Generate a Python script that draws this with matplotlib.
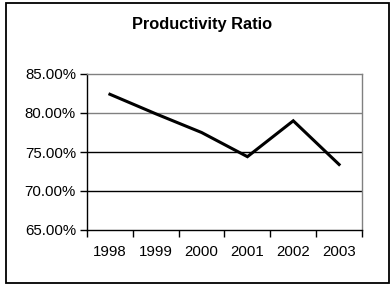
import matplotlib
matplotlib.use("Agg")
import matplotlib.pyplot as plt
from matplotlib.patches import Rectangle
from matplotlib.ticker import FixedLocator, NullFormatter, FixedFormatter

years = ["1998", "1999", "2000", "2001", "2002", "2003"]
ratio = [82.4, 79.9, 77.5, 74.4, 79.0, 73.4]
yticks = [65, 70, 75, 80, 85]
ytick_labels = ["65.00%", "70.00%", "75.00%", "80.00%", "85.00%"]
title = "Productivity Ratio"

W, H = 391, 284
fig = plt.figure(figsize=(W / 100, H / 100), dpi=100)
plt.rcParams['font.family'] = ['Liberation Sans', 'DejaVu Sans']

# outer chart border
fig.patches.append(Rectangle((5.5 / W, 1 - 282.5 / H), 383.5 / W, 280 / H,
                             transform=fig.transFigure, fill=False,
                             edgecolor="black", linewidth=1.3))

left, right, top, bottom = 87, 362, 74, 230
ax = fig.add_axes([left / W, 1 - bottom / H, (right - left) / W, (bottom - top) / H])

x = list(range(len(years)))
ax.plot(x, ratio, color="black", linewidth=2.2, solid_joinstyle="miter")
ax.set_xlim(-0.5, len(years) - 0.5)
ax.set_ylim(65, 85)

ax.set_yticks(yticks)
ax.set_yticklabels(ytick_labels, fontsize=10.8)
ax.xaxis.set_major_locator(FixedLocator([i - 0.5 for i in range(len(years) + 1)]))
ax.xaxis.set_major_formatter(NullFormatter())
ax.xaxis.set_minor_locator(FixedLocator(x))
ax.xaxis.set_minor_formatter(FixedFormatter(years))
ax.tick_params(axis="x", which="minor", length=0, labelsize=10.8, pad=11)
ax.tick_params(axis="x", which="major", length=5, width=1, direction="out")
ax.tick_params(axis="y", length=5, width=1, direction="out", pad=3)

for v in yticks[1:-1]:
    ax.axhline(v, color="gray" if v == 80 else "black", linewidth=1, zorder=0)

ax.spines["left"].set_color("black")
ax.spines["bottom"].set_color("black")
ax.spines["top"].set_color("gray")
ax.spines["right"].set_color("gray")
for s in ax.spines.values():
    s.set_linewidth(1)

fig.text((132 + 272) / 2 / W, 1 - 24 / H, title, ha="center", va="center",
         fontsize=11.8, fontweight="bold")

fig.savefig("out.png", dpi=100)
